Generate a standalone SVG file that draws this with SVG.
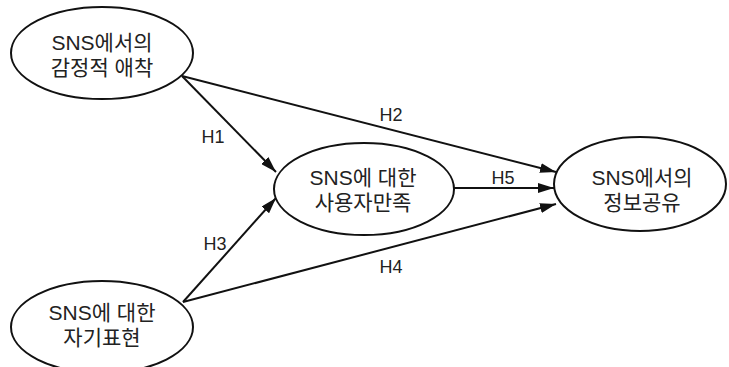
<svg xmlns="http://www.w3.org/2000/svg" width="729" height="367" viewBox="0 0 729 367">
<style>
.node ellipse{fill:#fff;stroke:#111;stroke-width:2}
.node text{font-family:"Liberation Sans","Noto Sans CJK KR",sans-serif;font-size:21px;fill:#222;text-anchor:middle}
.edge{stroke:#111;stroke-width:2;fill:none;marker-end:url(#ah)}
.lbl{font-family:"Liberation Sans",Arial,sans-serif;font-size:18px;fill:#222;text-anchor:middle}
</style>
<defs>
<marker id="ah" viewBox="0 0 16 10" refX="16" refY="5" markerWidth="16" markerHeight="10" markerUnits="userSpaceOnUse" orient="auto">
<path d="M0,0 L16,5 L0,10 Z" fill="#111"/>
</marker>
</defs>
<rect width="729" height="367" fill="#fff"/>
<g id="connectors">
<line class="edge" x1="182" y1="76" x2="276" y2="172"/>
<line class="edge" x1="182" y1="76" x2="556" y2="172"/>
<line class="edge" x1="454" y1="188" x2="554" y2="188"/>
<line class="edge" x1="183" y1="302" x2="276" y2="198"/>
<line class="edge" x1="183" y1="302" x2="556" y2="204"/>
<text class="lbl" x="213" y="143">H1</text>
<text class="lbl" x="391" y="121">H2</text>
<text class="lbl" x="503" y="184">H5</text>
<text class="lbl" x="215" y="250">H3</text>
<text class="lbl" x="391" y="273">H4</text>
</g>
<g id="n1" class="node">
<ellipse cx="102" cy="53" rx="91" ry="46"/>
<text x="102" y="50">SNS에서의</text>
<text x="102" y="75">감정적 애착</text>
</g>
<g id="n2" class="node">
<ellipse cx="102" cy="327" rx="91" ry="46"/>
<text x="102" y="320">SNS에 대한</text>
<text x="102" y="345">자기표현</text>
</g>
<g id="n3" class="node">
<ellipse cx="364" cy="189" rx="90" ry="46"/>
<text x="363" y="185">SNS에 대한</text>
<text x="363" y="210">사용자만족</text>
</g>
<g id="n4" class="node">
<ellipse cx="640" cy="184" rx="86" ry="47"/>
<text x="642" y="185">SNS에서의</text>
<text x="642" y="210">정보공유</text>
</g>
</svg>
